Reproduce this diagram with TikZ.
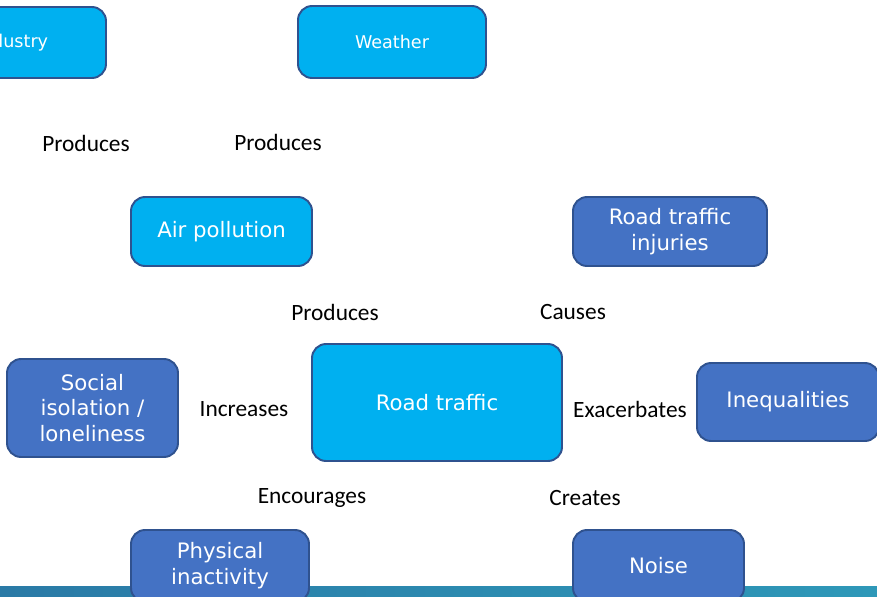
\documentclass[tikz,border=0pt]{standalone}
\usepackage{fontspec}
\setmainfont{Carlito}
\newfontfamily\boxfont{DejaVu Sans}
\usepackage{xcolor}
\usepackage{tikz}
\definecolor{rtcyan}{RGB}{0, 176, 240}
\definecolor{rtblue}{RGB}{68, 114, 196}
\definecolor{rtedge}{RGB}{47, 82, 143}
\definecolor{barleft}{RGB}{42, 122, 166}
\definecolor{barright}{RGB}{46, 152, 184}

\begin{document}
\begin{tikzpicture}[x=0.02cm, y=-0.02cm,
  factor/.style={draw=rtedge, line width=1.1pt, rounded corners=8pt,
    text=white, align=center, inner sep=0pt,
    font=\boxfont\fontsize{12.1}{14.7}\selectfont},
  cause/.style={factor, fill=rtcyan},
  effect/.style={factor, fill=rtblue},
  verb/.style={font=\fontsize{13.3}{16}\selectfont}]
\useasboundingbox (0,0) rectangle (877,596);

% Sources
\node[cause, minimum width=188*0.02cm, minimum height=71*0.02cm,
  font=\boxfont\fontsize{10}{12}\selectfont] (industry) at (12,42.5) {Industry};
\node[cause, minimum width=188*0.02cm, minimum height=72*0.02cm,
  font=\boxfont\fontsize{10}{12}\selectfont] (weather) at (392,42) {Weather};
\node[verb] (prodA) at (86,143) {Produces};
\node[verb] (prodB) at (278,142) {Produces};

% Second row
\node[cause, minimum width=181*0.02cm, minimum height=69*0.02cm] (airpol) at (221.5,231.5) {Air pollution};
\node[effect, minimum width=194*0.02cm, minimum height=69*0.02cm] (injuries) at (670,231.5) {Road traffic\\injuries};
\node[verb] (prodC) at (335,312) {Produces};
\node[verb] (causes) at (573,312) {Causes};

% Middle row
\node[effect, minimum width=171*0.02cm, minimum height=98*0.02cm] (isolation) at (92.5,408) {Social\\isolation /\\loneliness};
\node[verb] (increases) at (244,409) {Increases};
\node[cause, minimum width=250*0.02cm, minimum height=117*0.02cm] (traffic) at (437,402.5) {Road traffic};
\node[verb] (exacerbates) at (630,409) {Exacerbates};
\node[effect, minimum width=182*0.02cm, minimum height=78*0.02cm] (inequal) at (788,402) {Inequalities};
\node[verb] (encourages) at (312,498) {Encourages};
\node[verb] (creates) at (585,498) {Creates};

% Footer band
\shade[left color=barleft, right color=barright] (0,586) rectangle (877,596);

% Bottom row
\node[effect, minimum width=178*0.02cm, minimum height=72*0.02cm] (inactivity) at (220,566) {Physical\\inactivity};
\node[effect, minimum width=171*0.02cm, minimum height=72*0.02cm] (noise) at (658.5,566) {Noise};
\end{tikzpicture}
\end{document}
